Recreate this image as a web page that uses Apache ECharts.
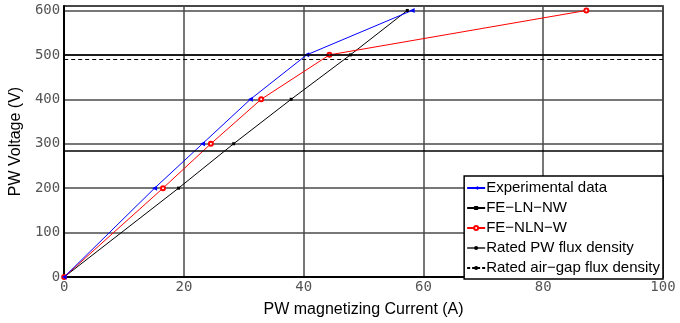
<!DOCTYPE html>
<html>
<head>
<meta charset="utf-8">
<script src="https://cdn.jsdelivr.net/npm/echarts@6/dist/echarts.min.js"></script>
<style>
html,body{margin:0;padding:0;background:#fff;}
#chart{width:680px;height:323px;}
</style>
</head>
<body>
<div id="chart"></div>
<script>
// voltage levels (V)
var voltage = [0, 200, 300, 400, 500, 600];
// currents (A)
var expCurrent = [0, 15.1, 23.1, 31.1, 40.5, 58.1];
var lnnwCurrent = [0, 19.1, 28.3, 37.9, 47.8, 57.3];
var nlnwCurrent = [0, 16.5, 24.5, 32.9, 44.3, 87.2];
// rated levels
var ratedPW = [285, 500];
var ratedGap = [491];

var xTicks = [0, 20, 40, 60, 80, 100];
var yTicks = [0, 100, 200, 300, 400, 500, 600];

function pairs(xs, ys) {
    return xs.map(function (x, i) { return [x, ys[i]]; });
}

var labelFont = {
    fontFamily: 'DejaVu Sans Mono',
    fontSize: 14,
    color: '#555'
};

var option = {
    animation: false,
    grid: { left: 62, right: 17, top: 6, bottom: 40, show: true, borderColor: '#000', borderWidth: 1.5 },
    legend: {
        right: 17,
        bottom: 44,
        orient: 'vertical',
        backgroundColor: '#fff',
        borderColor: '#000',
        borderWidth: 1.5,
        borderRadius: 0,
        padding: [4, 3, 3, 2],
        itemGap: 4,
        itemWidth: 18,
        itemHeight: 5,
        textStyle: { fontFamily: 'Liberation Sans', fontSize: 15, lineHeight: 16, color: '#000', padding: [0, 0, 0, -4] },
        data: ['Experimental data', 'FE\u2212LN\u2212NW', 'FE\u2212NLN\u2212W',
               'Rated PW flux density', 'Rated air\u2212gap flux density']
    },
    xAxis: {
        type: 'value',
        min: 0, max: 100, interval: 20,
        name: 'PW magnetizing Current (A)',
        nameLocation: 'middle',
        nameGap: 25,
        nameTextStyle: { fontFamily: 'Liberation Sans', fontSize: 16, color: '#000' },
        axisLine: { show: true, lineStyle: { color: '#000', width: 2 } },
        axisTick: { show: false },
        axisLabel: Object.assign({ margin: 3 }, labelFont),
        splitLine: { show: true, lineStyle: { color: '#4a4a4a', width: 1.5 } }
    },
    yAxis: {
        type: 'value',
        min: 0, max: 610, interval: 100,
        name: 'PW Voltage (V)',
        nameLocation: 'middle',
        nameGap: 36,
        nameTextStyle: { fontFamily: 'Liberation Sans', fontSize: 16, color: '#000' },
        axisLine: { show: true, lineStyle: { color: '#000', width: 2 } },
        axisTick: { show: false },
        axisLabel: Object.assign({
            margin: 4,
            formatter: function (v) { return yTicks.indexOf(v) >= 0 ? String(v) : ''; }
        }, labelFont),
        splitLine: { show: true, lineStyle: { color: '#4a4a4a', width: 1.5 } }
    },
    series: [
        {
            name: 'Rated PW flux density',
            type: 'line',
            data: [],
            color: '#000',
            symbol: 'none',
            lineStyle: { color: '#555', width: 1.5, type: 'solid' },
            markLine: {
                silent: true,
                symbol: 'none',
                label: { show: false },
                lineStyle: { color: '#000', width: 1.5, type: 'solid' },
                data: ratedPW.map(function (v) { return { yAxis: v }; })
            }
        },
        {
            name: 'Rated air\u2212gap flux density',
            type: 'line',
            data: [],
            color: '#000',
            symbol: 'none',
            lineStyle: { color: '#000', width: 1, type: [3, 2] },
            markLine: {
                silent: true,
                symbol: 'none',
                label: { show: false },
                lineStyle: { color: '#000', width: 1.2, type: [4, 3] },
                data: ratedGap.map(function (v) { return { yAxis: v }; })
            }
        },
        {
            name: 'FE\u2212LN\u2212NW',
            type: 'line',
            data: pairs(lnnwCurrent, voltage),
            color: '#000',
            symbol: 'rect',
            symbolSize: 3,
            lineStyle: { color: '#000', width: 1 },
            itemStyle: { color: '#000' }
        },
        {
            name: 'FE\u2212NLN\u2212W',
            type: 'line',
            data: pairs(nlnwCurrent, voltage),
            color: '#f00',
            symbol: 'emptyCircle',
            symbolSize: 4,
            lineStyle: { color: '#f00', width: 1 },
            itemStyle: { color: '#f00', borderColor: '#f00', borderWidth: 1 }
        },
        {
            name: 'Experimental data',
            type: 'line',
            data: pairs(expCurrent, voltage),
            color: '#00f',
            symbol: 'triangle',
            symbolRotate: 90,
            symbolSize: 5,
            lineStyle: { color: '#00f', width: 1 },
            itemStyle: { color: '#00f' }
        }
    ]
};

var chart = echarts.init(document.getElementById('chart'), null, { renderer: 'canvas' });
chart.setOption(option);
</script>
</body>
</html>
